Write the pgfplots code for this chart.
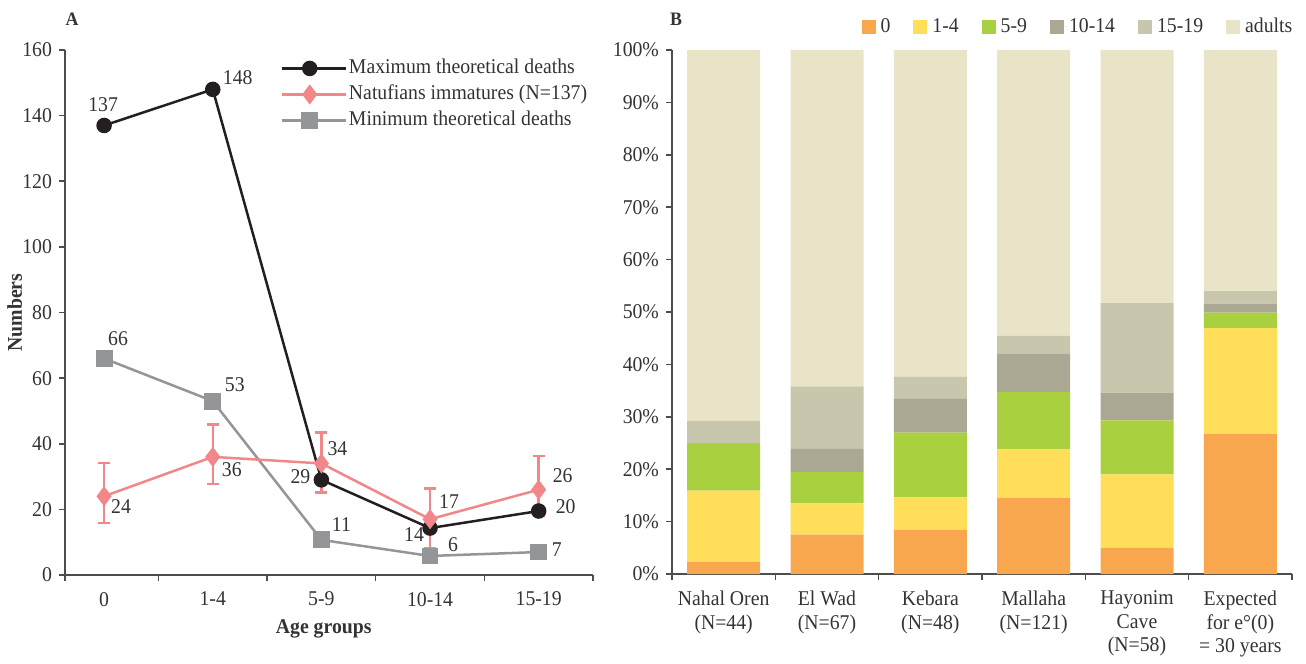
\documentclass[border=0pt]{standalone}
\usepackage{fontspec}
\setmainfont{Liberation Serif}[FakeStretch=0.94]
\usepackage{pgfplots}
\usepackage{pgfplotstable}
\pgfplotsset{compat=1.18}

\definecolor{axc}{HTML}{4D4D4D}
\definecolor{txc}{HTML}{333333}
\definecolor{bmax}{HTML}{231F20}
\definecolor{pnat}{HTML}{F2878A}
\definecolor{gmin}{HTML}{939598}
\definecolor{c0}{HTML}{F9A74E}
\definecolor{c1}{HTML}{FFDE59}
\definecolor{c2}{HTML}{A9D03F}
\definecolor{c3}{HTML}{AAA792}
\definecolor{c4}{HTML}{C8C7AE}
\definecolor{c5}{HTML}{E9E4C7}

% shares of each age group, percent
\pgfplotstableread{
x  a    b    c    d    e    f
0  2.3  13.6 9.1  0.0  4.2  70.8
1  7.5  6.0  6.0  4.4  11.9 64.2
2  8.4  6.2  12.4 6.4  4.2  62.4
3  14.5 9.3  10.9 7.3  3.5  54.5
4  5.0  14.0 10.3 5.3  17.1 48.3
5  26.7 20.2 3.0  1.7  2.4  46.0
}\datab

\pgfplotsset{
  common/.style={
    scale only axis, clip=false, enlargelimits=false,
    axis x line=bottom, axis y line=left,
    axis line style={-, draw=axc, line width=0.75pt},
    tick align=outside, major tick length=3pt,
    ytick style={draw=axc, line width=0.75pt},
    xtick style={draw=none},
    extra x tick labels={},
    extra x tick style={xtick style={draw=axc, line width=0.75pt}},
    tick label style={text=txc},
    xticklabel style={yshift=-2pt},
    font=\fontsize{10.5}{12}\selectfont,
    /pgf/number format/assume math mode=true,
  },
}
\tikzset{lbl/.style={font=\fontsize{10.5}{12}\selectfont, text=txc, inner sep=0pt}}

\begin{document}
\begin{tikzpicture}[x=1pt,y=1pt]
\path (0,0) rectangle (653,328.5);
\node[font=\bfseries\fontsize{9.5}{11}\selectfont, text=txc] at (36,319) {A};
\node[font=\bfseries\fontsize{9.5}{11}\selectfont, text=txc] at (338,319) {B};

% ---------- panel A ----------
\begin{axis}[common,
  at={(32.5pt,41pt)}, anchor=south west,
  width=264pt, height=262.5pt,
  xmin=-0.36, xmax=4.5, ymin=0, ymax=160,
  xtick={0,1,2,3,4}, xticklabels={0,1-4,5-9,10-14,15-19},
  extra x ticks={-0.36,0.5,1.5,2.5,3.5,4.5},
  ytick={0,20,...,160},
  xlabel={Age groups}, ylabel={Numbers},
  every axis x label/.style={at={(axis description cs:0.49,-0.103)}, anchor=center, font=\bfseries\fontsize{10.5}{12}\selectfont, text=txc},
  every axis y label/.style={at={(axis description cs:-0.095,0.5)}, rotate=90, anchor=center, font=\bfseries\fontsize{10.5}{12}\selectfont, text=txc},
  legend style={at={(rel axis cs:0.396,0.998)}, anchor=north west, draw=none, fill=none,
    row sep=0pt, font=\fontsize{10.5}{12}\selectfont, text=txc,
    nodes={inner sep=1pt, text height=8pt, text depth=3pt}},
  legend cell align=left,
  legend image code/.code={\draw[mark repeat=2, mark phase=2] plot coordinates {(0pt,0pt) (14pt,0pt) (28pt,0pt)};
    \path (0pt,0pt) -- (32pt,0pt);},
]
\addlegendimage{color=bmax, line width=1.25pt, mark=*, mark size=3.25pt}
\addlegendentry{Maximum theoretical deaths}
\addlegendimage{color=pnat, line width=1.25pt, mark=diamond*, mark size=4pt}
\addlegendentry{Natufians immatures (N=137)}
\addlegendimage{color=gmin, line width=1.25pt, mark=square*, mark size=3.6pt}
\addlegendentry{Minimum theoretical deaths}

\addplot[forget plot, color=gmin, line width=1.25pt, mark=square*, mark size=3.6pt]
  coordinates {(0,66) (1,53) (2,10.7) (3,5.8) (4,7)};
\addplot[forget plot, color=bmax, line width=1.25pt, mark=*, mark size=3.25pt]
  coordinates {(0,137) (1,148) (2,29) (3,14.3) (4,19.5)};
\addplot[forget plot, color=pnat, line width=1.25pt, mark=diamond*, mark size=4pt,
  error bars/.cd, y dir=both, y explicit,
  error bar style={line width=1.25pt},
  error mark options={rotate=90, mark size=3pt, line width=1.25pt, color=pnat}]
  coordinates {
    (0,24) += (0,10.2) -= (0,8.1)
    (1,36) += (0,9.9)  -= (0,8.3)
    (2,34) += (0,9.5)  -= (0,8.8)
    (3,17) += (0,9.3)  -= (0,8.8)
    (4,26) += (0,10.2) -= (0,8.0)
  };

\node[lbl, xshift=-0.5pt, yshift=10.5pt] at (axis cs:0,137) {137};
\node[lbl, xshift=12.5pt, yshift=6pt]   at (axis cs:1,148) {148};
\node[lbl, xshift=-10.5pt, yshift=1.5pt] at (axis cs:2,29) {29};
\node[lbl, xshift=-8pt, yshift=-3pt]    at (axis cs:3,14.3) {14};
\node[lbl, xshift=13.5pt, yshift=2pt]   at (axis cs:4,19.5) {20};
\node[lbl, xshift=8.5pt, yshift=-5pt]   at (axis cs:0,24) {24};
\node[lbl, xshift=9.5pt, yshift=-6.5pt] at (axis cs:1,36) {36};
\node[lbl, xshift=8pt, yshift=7.5pt]    at (axis cs:2,34) {34};
\node[lbl, xshift=9.5pt, yshift=9pt]    at (axis cs:3,17) {17};
\node[lbl, xshift=12pt, yshift=7pt]     at (axis cs:4,26) {26};
\node[lbl, xshift=7pt, yshift=10pt]     at (axis cs:0,66) {66};
\node[lbl, xshift=11pt, yshift=8pt]     at (axis cs:1,53) {53};
\node[lbl, xshift=10pt, yshift=7.5pt]   at (axis cs:2,10.7) {11};
\node[lbl, xshift=11.5pt, yshift=5.5pt] at (axis cs:3,5.8) {6};
\node[lbl, xshift=9pt, yshift=1pt]      at (axis cs:4,7) {7};
\end{axis}

% ---------- panel B ----------
\begin{axis}[common,
  at={(336pt,41.5pt)}, anchor=south west,
  width=310pt, height=262pt,
  xmin=-0.5, xmax=5.5, ymin=0, ymax=100,
  ybar stacked, bar width=36.5pt,
  xtick={0,...,5},
  xticklabels={{Nahal Oren\\(N=44)},{El Wad\\(N=67)},{Kebara\\(N=48)},{Mallaha\\(N=121)},{Hayonim\\Cave\\(N=58)},{Expected\\for e°(0)\\= 30 years}},
  xticklabel style={align=center, font=\fontsize{10.5}{11.7}\selectfont},
  extra x ticks={-0.5,0.5,1.5,2.5,3.5,4.5,5.5},
  ytick={0,10,...,100},
  yticklabels={0\%,10\%,20\%,30\%,40\%,50\%,60\%,70\%,80\%,90\%,100\%},
  legend columns=6,
  legend style={at={(rel axis cs:1.014,1.073)}, anchor=north east, draw=none, fill=none,
    font=\fontsize{10.5}{12}\selectfont, text=txc,
    nodes={inner sep=1pt},
    /tikz/every even column/.append style={column sep=10.5pt}},
  legend image code/.code={\fill[#1] (0pt,-3.5pt) rectangle (7pt,3.5pt);
    \path (0pt,0pt) -- (8.5pt,0pt);},
]
\addplot[fill=c0, draw=none] table[x=x, y=a] {\datab}; \addlegendentry{0}
\addplot[fill=c1, draw=none] table[x=x, y=b] {\datab}; \addlegendentry{1-4}
\addplot[fill=c2, draw=none] table[x=x, y=c] {\datab}; \addlegendentry{5-9}
\addplot[fill=c3, draw=none] table[x=x, y=d] {\datab}; \addlegendentry{10-14}
\addplot[fill=c4, draw=none] table[x=x, y=e] {\datab}; \addlegendentry{15-19}
\addplot[fill=c5, draw=none] table[x=x, y=f] {\datab}; \addlegendentry{adults}
\end{axis}
\end{tikzpicture}
\end{document}
